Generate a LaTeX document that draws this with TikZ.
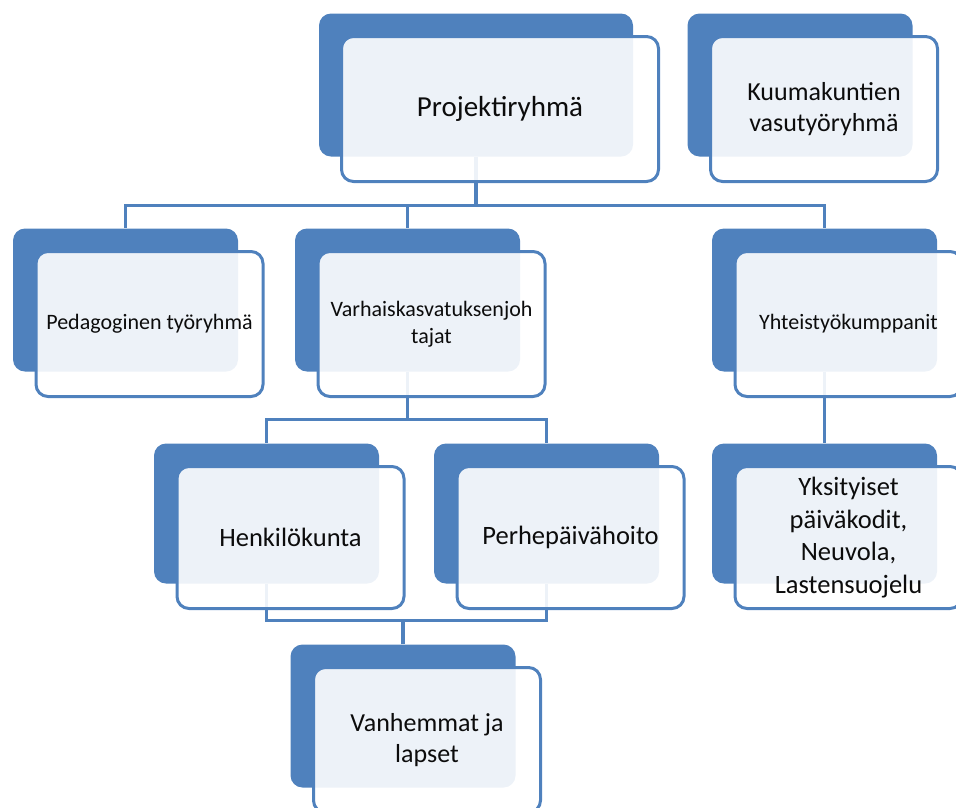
\documentclass[tikz,border=0pt]{standalone}
\usepackage{fontspec}
\setmainfont{Carlito}
\usepackage{tikz}
\usetikzlibrary{calc}
\definecolor{accent}{RGB}{79, 129, 189}
\definecolor{labeltext}{RGB}{12, 12, 12}

\begin{document}
\begin{tikzpicture}[x=1pt, y=-1pt,
  backbox/.style={fill=accent, rounded corners=12pt, minimum width=225pt, minimum height=143pt, inner sep=0pt},
  frontbox/.style={draw=accent, line width=3pt, fill=white, fill opacity=0.9, text opacity=1, rounded corners=12pt,
    minimum width=227pt, minimum height=145pt, inner sep=0pt, align=center, text=labeltext},
  link/.style={draw=accent, line width=3.5pt}]
  \useasboundingbox (0, 0) rectangle (956, 807);
  % Back panels
  \node[backbox, minimum width=314pt] (projB) at (476, 85) {};
  \node[backbox] (kuumB) at (800, 85) {};
  \node[backbox] (pedB) at (125.5, 300) {};
  \node[backbox] (varhB) at (407.5, 300) {};
  \node[backbox] (yhtB) at (824.5, 300) {};
  \node[backbox, minimum height=140pt] (henkB) at (266.5, 513.5) {};
  \node[backbox, minimum height=140pt] (perhB) at (546.5, 513.5) {};
  \node[backbox, minimum height=140pt] (yksB) at (824.5, 513.5) {};
  \node[backbox] (vanhB) at (403, 716) {};
  % Connectors
  \draw[link] (projB.south) -- ++(0, 49) coordinate (bus1) -| (pedB.north);
  \draw[link] (bus1) -| (varhB.north);
  \draw[link] (bus1) -| (yhtB.north);
  \draw[link] (varhB.south) -- ++(0, 48) coordinate (bus2) -| (henkB.north);
  \draw[link] (bus2) -| (perhB.north);
  \draw[link] (yhtB.south) -- (yksB.north);
  \draw[link] (henkB.south) -- ++(0, 37) coordinate (bus3) -| (perhB.south);
  \draw[link] (vanhB.north) -- (vanhB.north |- bus3);
  % Front panels with labels
  \node[frontbox, minimum width=317pt, font=\fontsize{29}{35}\selectfont] (proj) at ($(projB)+(24, 24)$) {Projektiryhmä};
  \node[frontbox, font=\fontsize{26}{31}\selectfont] (kuum) at ($(kuumB)+(24, 24)$) {Kuumakuntien\\vasutyöryhmä};
  \node[frontbox, font=\fontsize{22}{27}\selectfont] (ped) at ($(pedB)+(24, 24)$) {Pedagoginen työryhmä};
  \node[frontbox, font=\fontsize{22}{27}\selectfont] (varh) at ($(varhB)+(24, 24)$) {Varhaiskasvatuksenjoh\\tajat};
  \node[frontbox, font=\fontsize{22}{27}\selectfont] (yht) at ($(yhtB)+(24, 24)$) {Yhteistyökumppanit};
  \node[frontbox, minimum height=142pt, font=\fontsize{26.5}{32}\selectfont] (henk) at ($(henkB)+(24, 24)$) {Henkilökunta};
  \node[frontbox, minimum height=142pt, font=\fontsize{26.5}{32}\selectfont] (perh) at ($(perhB)+(24, 24)$) {Perhepäivähoito};
  \node[frontbox, minimum height=142pt, font=\fontsize{26.5}{32.5}\selectfont] (yks) at ($(yksB)+(24, 24)$) {Yksityiset\\päiväkodit,\\Neuvola,\\Lastensuojelu};
  \node[frontbox, font=\fontsize{26}{31}\selectfont] (vanh) at ($(vanhB)+(24, 24)$) {Vanhemmat ja\\lapset};
\end{tikzpicture}
\end{document}
